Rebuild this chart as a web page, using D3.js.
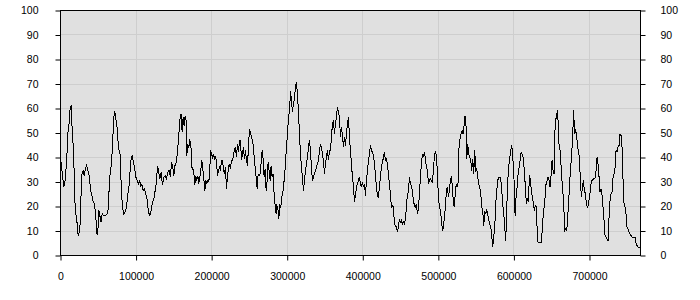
<!DOCTYPE html>
<html>
<head>
<meta charset="utf-8">
<script src="https://cdn.jsdelivr.net/npm/d3@7"></script>
<style>
  body { margin: 0; background: #fff; }
  text { font-family: "Liberation Sans", Arial, sans-serif; font-size: 10.5px; fill: #000; }
</style>
</head>
<body>
<svg id="chart" width="700" height="300"></svg>
<script>
// sample positions (x) and values (y)
const sampleX = [
  0, 4410, 6174, 8379, 9702, 11466, 12789, 14112, 14994, 16317, 17640, 18522, 20286, 22050, 23373,
  24696, 26019, 27342, 28224, 29988, 31311, 32634, 34398, 36162, 37926, 39690, 41454, 43218, 44982,
  46746, 48510, 49833, 50715, 52479, 53802, 55125, 56448, 58212, 59976, 61740, 63504, 64827, 66150,
  67473, 68796, 70119, 71442, 72324, 73206, 74970, 76734, 78057, 79380, 80262, 82026, 83790, 85554,
  87318, 89082, 90846, 92169, 93492, 94815, 96138, 97902, 99666, 101430, 103194, 104958, 106281,
  107604, 109368, 111132, 112896, 114660, 116424, 118188, 119952, 121716, 123480, 125244, 127008,
  128331, 129654, 131418, 133182, 134946, 136710, 138474, 140238, 142002, 143766, 145530, 146853,
  148617, 149940, 151263,
  152586, 154350, 155673, 156996, 158319, 159642, 160965, 162288, 163611, 164934, 166257, 167139,
  168462, 169785, 171108, 172431, 173754, 175077, 176400, 177723, 179046, 180369, 181692, 183015,
  184338, 185661, 186984, 188307, 189630, 190953, 192276, 193599, 194922, 196245, 197568, 198450,
  199773, 201096, 202419, 203742, 205065, 206388, 207711, 209034, 210357, 211680, 213003, 214326,
  215649, 216972, 218295, 219618, 220941, 222264, 223587, 224910, 226233, 227556, 228879, 230202,
  231525, 232848, 234171, 235494, 236817, 238140, 239463, 240786, 242109, 243432, 244755, 246078,
  247401, 248724, 250047, 251370, 252693, 254016, 255339, 256662, 257985, 259308, 260190, 261513,
  262836, 264159, 265482, 266805, 268128, 269451, 270774, 272097, 273420, 274743, 276066, 277389,
  278712, 280035, 281358, 282681, 284004, 285327, 286209, 287532, 288855, 290178, 291501, 292824,
  294147, 295470, 296793, 298116, 299439, 300762, 302085, 303408,
  304290, 305613, 306936, 308259, 309582, 310905, 312228, 313551, 314874, 316197, 317520, 318843,
  320166, 321489, 322812, 324135, 325458, 326781, 328104, 329427, 330750, 332073, 333396, 334719,
  336042, 337365, 338688, 340011, 341334, 342657, 343980, 345303, 346626, 347949, 349272, 350595,
  351918, 353241, 354564, 355887, 357210, 358533, 359856, 361179, 362502, 363825, 365148, 366471,
  367794, 369117, 370440, 371763, 373086, 374409, 375732, 377055, 378378, 379701, 381024, 382347,
  383670, 384993, 386316, 387639, 388962, 390285, 391608, 392931, 394254, 395577, 396900, 398223,
  399546, 400869, 402192, 403515, 404838, 406161, 407484, 408807, 410130, 411453, 412776, 414099,
  415422, 416745, 418068, 419391, 420714, 422037, 423360, 424683, 426006, 427329, 428652, 429975,
  431298, 432621, 433944, 435267, 436590, 437913, 439236, 440559, 441882, 443205, 444528, 445851,
  447174, 448497, 449820, 451143, 452466, 453789, 455112, 456435, 457758, 459081, 460404,
  461727, 463050, 464373, 465696, 467019, 468342, 469665, 470988, 472311, 473634, 474957, 476280,
  477603, 478926, 480249, 481572, 482895, 484218, 485541, 486864, 488187, 489510, 490833, 492156,
  493479, 494802, 496125, 497448, 498771, 500094, 501417, 502740, 504063, 505386, 506709, 508032,
  509355, 510678, 512001, 513324, 514647, 515970, 517293, 518616, 519939, 521262, 522585, 523908,
  525231, 526554, 527436, 528759, 530082, 531405, 532728, 534051, 535374, 536697, 537579, 538902,
  540225, 541548, 542871, 544194, 545517, 546840, 548163, 549486, 550809, 552132, 553455, 554778,
  556101, 557424, 558747, 560070, 561393, 562716, 564039, 565362, 566685, 568008, 569331, 570654,
  571977, 573300, 574623, 575946, 577269, 578592, 579915, 581238, 582561, 583884, 585207, 586530,
  587853, 589176, 590058, 591381, 592704, 594027, 595350, 596673, 597996, 599319, 600642, 601524,
  602847, 604170, 605493, 606816, 608139, 609462, 610785, 612108, 613431,
  615195, 616518, 617841, 619164, 620487, 621810, 623133, 624456, 625779, 627102, 628425, 629748,
  630630, 631953, 633276, 634599, 635922, 637245, 638568, 639891, 641214, 642537, 643860, 645183,
  646506, 647829, 649152, 650475, 651798, 653121, 654003, 655326, 656649, 657972, 659295, 660618,
  661941, 663264, 664587, 665910, 667233, 668556, 669879, 671202, 672525, 673848, 675171, 676494,
  677817, 679140, 680022, 681345, 682668, 683991, 685314, 686637, 687960, 689283, 690606, 691929,
  693252, 694575, 695898, 697221, 698544, 699867, 701190, 702513, 703836, 705159, 706482, 707805,
  709128, 710010, 711333, 712656, 713979, 715302, 716625, 717948, 719271, 720594, 721917, 723240,
  724563, 725886, 727209, 728532, 729855, 731178, 732501, 733824, 735147, 736470, 737793, 739116,
  740439, 741762, 743085, 744408, 745731, 747054, 748377, 749700, 751023, 752346, 753669, 754992,
  756315, 757638, 758961, 760284, 761607, 762930, 764253, 765576, 767340
]
const sampleY = [
  40, 28, 30.6, 40, 50, 54, 60.5, 61, 54, 47, 40, 24, 17, 13, 8,
  9.5, 13, 26.5, 33, 34.7, 32.6, 35, 36.7, 35, 32.6, 27, 24.5, 21.8, 21,
  15.6, 8.2, 11.6, 18.4, 15.6, 13.6, 17, 16.3, 16.3, 16.3, 17, 19.7, 32, 33.3,
  38.8, 44, 55, 59, 57.8, 55.8, 52, 44, 42, 40.8, 28, 19.7, 17, 17.7,
  19.7, 25, 28.6, 34.7, 39.5, 40.8, 38.8, 36, 32, 30.6, 29.3, 30.6, 28,
  29.3, 26.5, 27.2, 25, 23, 17.7, 16.3, 18.4, 21.8, 23, 26.5, 30,
  36.7, 34.7, 31.3, 34, 28.6, 32, 32.6, 31.3, 34, 34.7, 32, 38,
  36, 32.6, 36.7,
  37, 40.8, 45.6, 51, 56.5, 57.8, 50.3, 56.5, 53, 57, 55, 40.8,
  45.6, 44, 47, 46, 36, 35.4, 34, 28.6, 32.6, 30.6, 32.6, 29.3,
  32, 34.7, 38.8, 35.4, 31.3, 26.5, 30.6, 29.3, 30.6, 30, 34.7, 42.9,
  41.5, 40.1, 41.5, 39.5, 40.1, 38.8, 32.6, 34.7, 36, 34.7, 38.8, 38.8,
  35.4, 33.3, 36, 27.2, 32, 36, 37.4, 35.4, 38.8, 38.8, 40.8, 43.5,
  44, 40.1, 45.6, 42.2, 47, 47, 38.8, 41.5, 44.2, 39.5, 42.9, 38.8,
  36.7, 44.2, 51.7, 50.3, 48.3, 47, 44.2, 38.8, 34.7, 30.6, 27.2, 33.3,
  32.6, 33.3, 38, 42.9, 39.5, 32, 35.4, 26.5, 30.6, 38, 34.7, 30.6,
  36.7, 32, 33.3, 25.2, 20.4, 17, 20.4, 19.7, 15, 20.4, 19.7, 23.8,
  25.2, 29.3, 33.3, 40.1, 45.6, 52.4, 57, 60.5,
  67.3, 63.3, 58.5, 61.9, 63.9, 68.7, 70.7, 66, 59, 49.7, 41.5, 36,
  32, 26.5, 30.6, 34.7, 37.4, 40, 44.2, 47, 42.9, 36, 30.6, 32,
  33.3, 34.7, 36, 37.4, 38.8, 42.9, 45.6, 44.2, 41.5, 38.8, 33.3, 37.4,
  40, 42.9, 38.8, 42.9, 42.9, 48.3, 53.7, 55.1, 49.7, 53.7, 56.5, 60.5,
  58.5, 56.5, 48.3, 52.4, 49, 44.2, 48.3, 44.9, 49.7, 53.7, 56.5, 48.3,
  42.9, 37.4, 32, 28.6, 21.8, 24.5, 27.9, 29.3, 30.6, 32, 29.3, 27.9,
  29.9, 27.9, 29.3, 24.5, 30.6, 34.7, 38.8, 41.5, 44.9, 42.9, 42.2, 40.8,
  37.4, 33.3, 27.9, 24.5, 23.8, 27.9, 32, 36, 38, 40, 42.2, 38.8,
  39.5, 37.4, 33.3, 29.3, 25.2, 19.7, 20.4, 19.7, 12.9, 12.2, 11.6, 9.5,
  11.6, 15, 13.6, 14.3, 12.9, 13.6, 12.9, 15, 19.7, 25.2, 25.9,
  32, 29.3, 28.6, 25.9, 22.4, 20.4, 19.7, 21, 17, 19, 25.2, 32,
  37.4, 41.5, 40.1, 42.2, 39.5, 36, 34.7, 29.3, 30.6, 31.3, 30.6, 30,
  34.7, 40.8, 42.2, 40.8, 33.3, 23.8, 19.7, 18.4, 14.3, 10.2, 11.6, 15.6,
  19.7, 26.5, 27.9, 23.8, 26.5, 31.3, 32, 27.9, 21, 19.7, 26.5, 29.3,
  27.9, 30.6, 45.6, 47.6, 49.7, 51, 49.7, 53, 57.1, 52.4, 39.5, 45.6,
  41.5, 40.1, 38.8, 34.7, 39.5, 33.3, 42.9, 34.7, 35.4, 32, 29.3, 27.9,
  25.2, 19.7, 18.4, 12.2, 17.7, 17, 18.4, 17, 14.3, 12.9, 11.6, 8.2,
  3.4, 7.5, 11.6, 21, 26.5, 30.6, 32, 32, 31.3, 26.5, 21, 17,
  11.6, 6.1, 14.3, 27.9, 34.7, 38.8, 41.5, 44.9, 42.9, 36, 27.9, 16.3,
  23.8, 27.9, 33.3, 36, 38.8, 42.2, 41.5, 40.1, 36,
  27.9, 21, 23, 21.8, 32.7, 30.6, 26.5, 23.8, 21, 18.4, 20.4, 19.7,
  11.6, 5.4, 5.2, 5.2, 5.2, 9.5, 15.6, 19.7, 23.8, 29.3, 30.6, 32,
  30.6, 27.9, 32.7, 38.8, 34.7, 33.3, 49.7, 55.1, 57.8, 59.2, 45.6, 44.9,
  38.8, 32, 26.5, 21, 10.2, 10.9, 10.2, 15.6, 22.4, 30.6, 36, 41.5,
  49.7, 59.2, 49.7, 51, 49.7, 45.6, 42.2, 40.1, 30.6, 23.8, 27.9, 30.6,
  26.5, 25.2, 21, 19.7, 20.4, 23.8, 26.5, 30.6, 30.6, 31.3, 31.3, 32,
  36, 40.1, 37.4, 32, 25.9, 27.2, 24.5, 19.7, 14.3, 8.2, 7.5, 6.8,
  6.1, 15.6, 22.4, 25.2, 25.9, 32, 33.3, 36, 42.9, 42.2, 44.2, 44.9,
  49.7, 49, 44.2, 30.6, 21, 19.7, 17, 11.6, 10.9, 9.5, 8.8, 8.2,
  7.5, 7.5, 7.5, 7.5, 4.8, 4.1, 3.4, 3.4, 3.4
]
const xTicks = [0, 100000, 200000, 300000, 400000, 500000, 600000, 700000]
const yTicks = [0, 10, 20, 30, 40, 50, 60, 70, 80, 90, 100]

const margin = {top: 10, right: 60, bottom: 45, left: 60}
const width = 700 - margin.left - margin.right
const height = 300 - margin.top - margin.bottom

const svg = d3.select("#chart")
const g = svg.append("g")
    .attr("transform", `translate(${margin.left + 0.5},${margin.top + 0.5})`)

const x = d3.scaleLinear().domain([0, 767500]).range([0, width])
const y = d3.scaleLinear().domain([0, 100]).range([height, 0])

// plot background
g.append("rect")
    .attr("x", 0).attr("y", 0)
    .attr("width", width).attr("height", height)
    .attr("fill", "#e0e0e0")

// grid
g.append("g").selectAll("line").data(yTicks.slice(1, -1)).join("line")
    .attr("x1", 0).attr("x2", width)
    .attr("y1", d => Math.round(y(d))).attr("y2", d => Math.round(y(d)))
    .attr("stroke", "#cecece")
g.append("g").selectAll("line").data(xTicks.slice(1)).join("line")
    .attr("y1", 0).attr("y2", height)
    .attr("x1", d => Math.round(x(d))).attr("x2", d => Math.round(x(d)))
    .attr("stroke", "#cecece")

// data line, drawn without smoothing like the original
const line = d3.line()
    .x((d, i) => x(sampleX[i]))
    .y(d => y(d))
g.append("path")
    .datum(sampleY)
    .attr("fill", "none")
    .attr("stroke", "#000")
    .attr("stroke-width", 1)
    .attr("shape-rendering", "crispEdges")
    .attr("d", line)

// frame
g.append("rect")
    .attr("x", 0).attr("y", 0)
    .attr("width", width).attr("height", height)
    .attr("fill", "none")
    .attr("stroke", "#000")

// axes
function styleAxis(sel){
    sel.select(".domain").remove()
    sel.selectAll(".tick line").attr("stroke", "#000")
    sel.selectAll(".tick text").attr("fill", "#000")
        .style("font-family", '"Liberation Sans", Arial, sans-serif')
        .style("font-size", "10.5px")
}
g.append("g")
    .call(d3.axisLeft(y).tickValues(yTicks).tickSize(5).tickPadding(17).tickSizeOuter(0))
    .call(styleAxis)
g.append("g")
    .attr("transform", `translate(${width},0)`)
    .call(d3.axisRight(y).tickValues(yTicks).tickSize(5).tickPadding(15).tickSizeOuter(0))
    .call(styleAxis)
g.append("g")
    .attr("transform", `translate(0,${height})`)
    .call(d3.axisBottom(x).tickValues(xTicks).tickFormat(d3.format("d")).tickSize(5).tickPadding(12).tickSizeOuter(0))
    .call(styleAxis)
</script>
</body>
</html>
